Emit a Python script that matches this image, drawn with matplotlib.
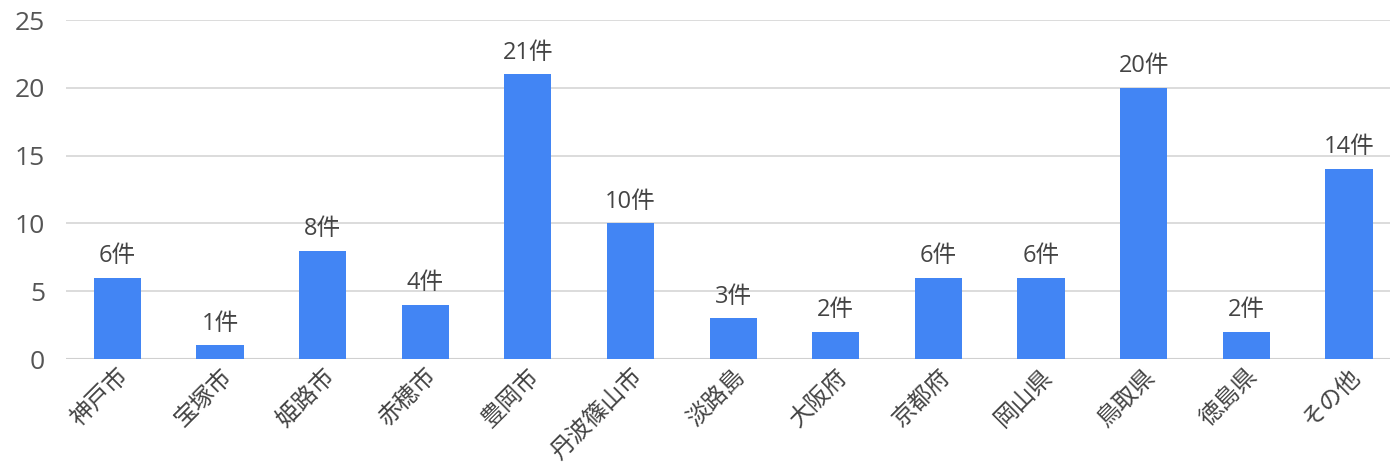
import matplotlib
matplotlib.use("Agg")
import matplotlib.pyplot as plt

plt.rcParams["font.family"] = ["Open Sans", "Noto Sans CJK JP", "DejaVu Sans"]

categories = ["神戸市", "宝塚市", "姫路市", "赤穂市", "豊岡市", "丹波篠山市", "淡路島",
              "大阪府", "京都府", "岡山県", "鳥取県", "徳島県", "その他"]
counts = [6, 1, 8, 4, 21, 10, 3, 2, 6, 6, 20, 2, 14]
y_ticks = [0, 5, 10, 15, 20, 25]

bar_color = "#4285F4"
text_color = "#444444"

fig = plt.figure(figsize=(13.92, 4.73), dpi=100)
ax = fig.add_axes([66 / 1392, 114 / 473, 1324 / 1392, 339 / 473])

x = list(range(len(categories)))
bars = ax.bar(x, counts, width=0.46, color=bar_color, zorder=3)

for xi, v in zip(x, counts):
    ax.annotate(f"{v}件", (xi, v), xytext=(0, 7), textcoords="offset points",
                ha="center", va="bottom", fontsize=17, color=text_color)

ax.set_xlim(-0.5, 12.4)
ax.set_ylim(0, 25)
ax.set_yticks(y_ticks)
ax.yaxis.grid(True, color="#d9d9d9", linewidth=1.3, zorder=0)
ax.set_axisbelow(True)
for s in ax.spines.values():
    s.set_visible(False)
ax.axhline(0, color="#d0d0d0", linewidth=1.5, zorder=2)

ax.set_xticks(x)
ax.set_xticklabels(categories, rotation=45, ha="right", rotation_mode="anchor",
                   fontsize=17, color=text_color)
ax.tick_params(axis="both", length=0)
ax.tick_params(axis="x", pad=4)
ax.tick_params(axis="y", pad=15, labelsize=19, labelcolor="#555555")

fig.savefig("out.png", dpi=100)
